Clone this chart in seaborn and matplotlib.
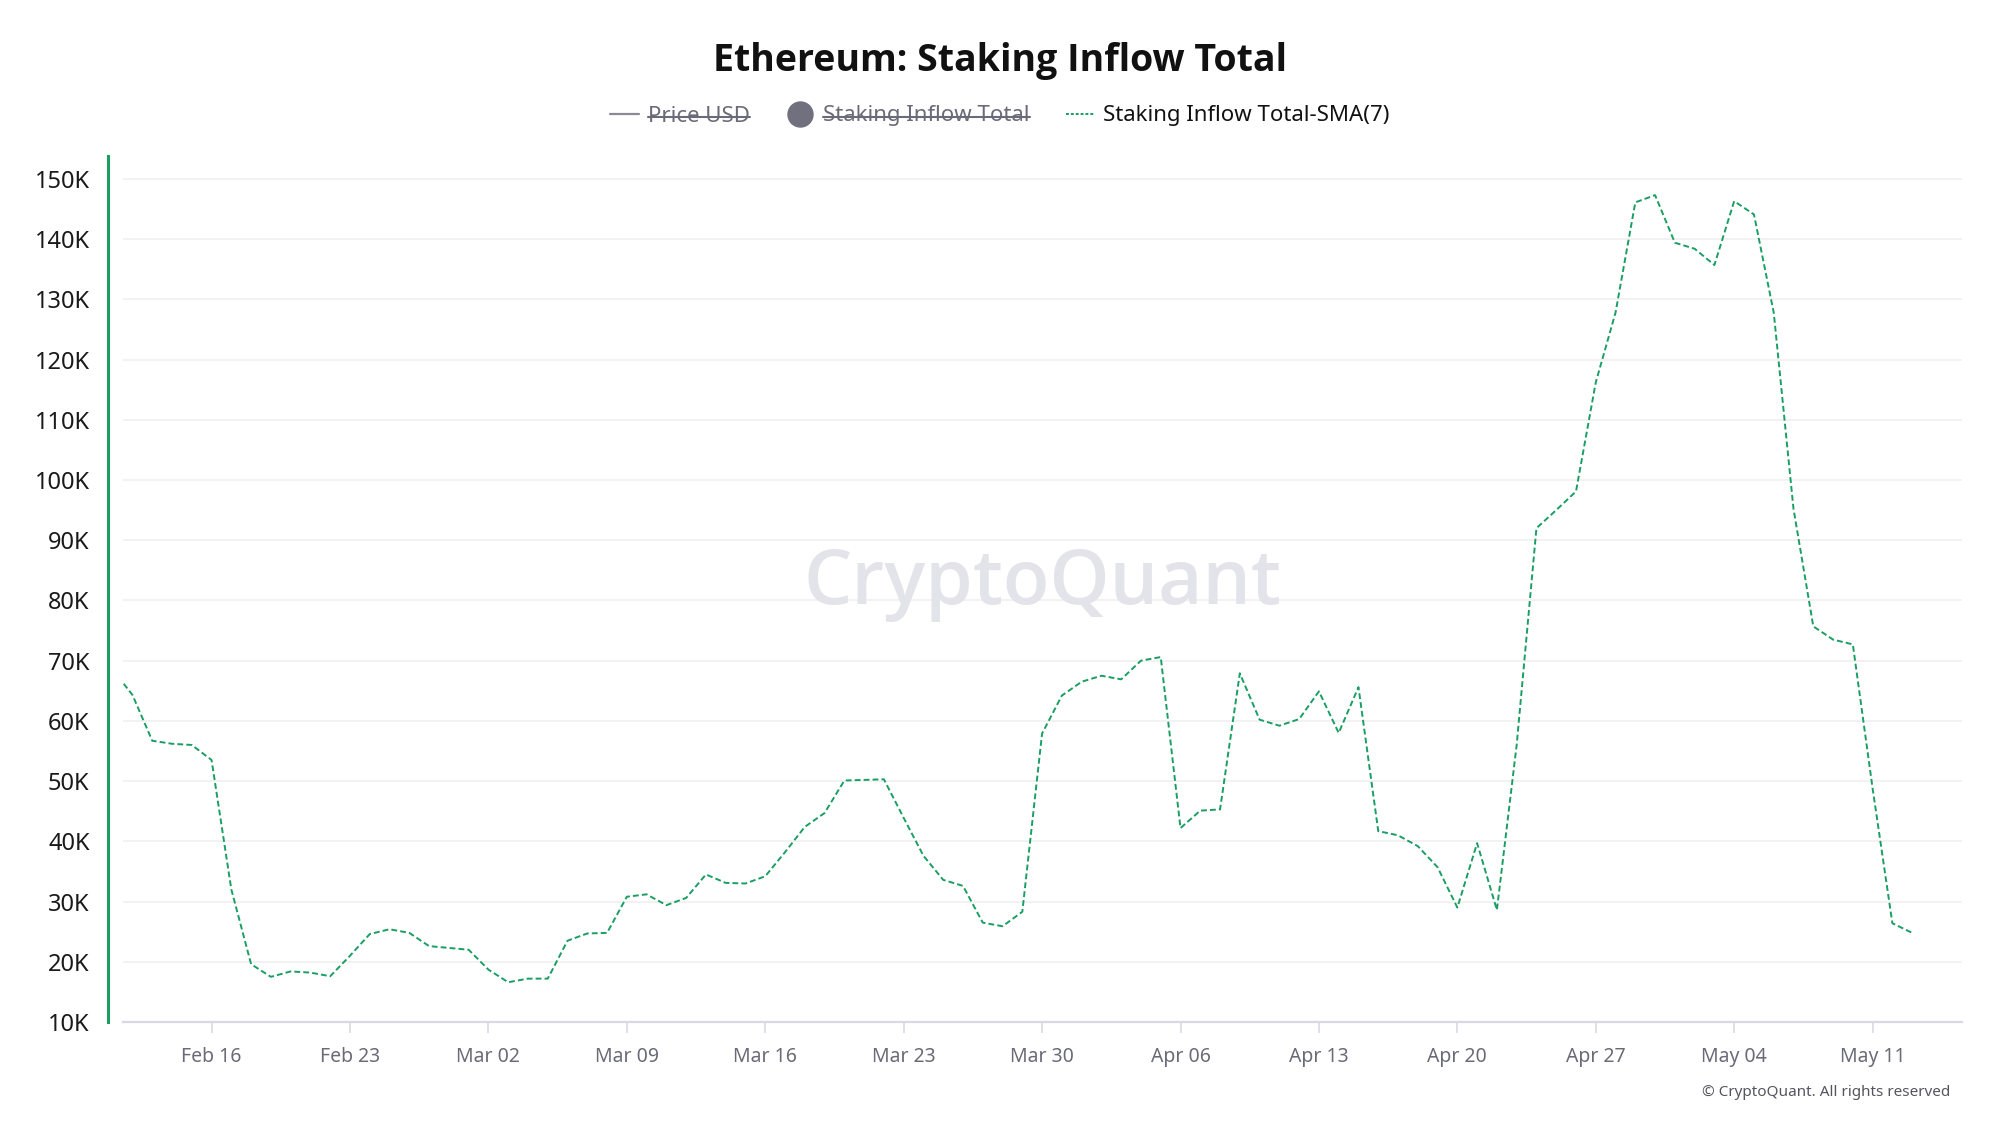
import matplotlib
matplotlib.use("Agg")
import matplotlib.pyplot as plt
import matplotlib.dates as mdates
from matplotlib.lines import Line2D
from matplotlib.ticker import FuncFormatter
import seaborn as sns
import pandas as pd

# ---- data (7-day SMA of Ethereum staking inflow, in thousands of ETH) ----
start_date = "2025-02-11"
end_date = "2025-05-13"
feb_values = [68.5, 64.3, 56.7, 56.2, 56.0, 53.5, 32.0, 19.6, 17.5, 18.4, 18.2, 17.6,
              21.0, 24.6, 25.4, 24.8, 22.6, 22.3]
mar_values = [22.0, 18.7, 16.6, 17.2, 17.2, 23.5, 24.7, 24.8, 30.8, 31.2, 29.4, 30.6,
              34.5, 33.1, 33.0, 34.2, 38.2, 42.4, 44.7, 50.1, 50.2, 50.3, 43.9, 37.6,
              33.6, 32.6, 26.5, 25.9, 28.3, 57.9, 64.2]
apr_values = [66.5, 67.5, 66.9, 70.0, 70.6, 42.2, 45.1, 45.3, 67.9, 60.2, 59.2, 60.3,
              64.9, 58.0, 65.6, 41.7, 41.0, 39.2, 35.7, 29.0, 39.7, 28.6, 56.0, 92.0,
              95.0, 98.1, 116.2, 127.8, 146.1, 147.3]
may_values = [139.4, 138.4, 135.7, 146.3, 144.1, 127.8, 95.2, 75.7, 73.5, 72.7, 48.8,
              26.4, 24.8]
y_ticks_k = [10, 20, 30, 40, 50, 60, 70, 80, 90, 100, 110, 120, 130, 140, 150]
legend_labels = ["Price USD", "Staking Inflow Total", "Staking Inflow Total-SMA(7)"]
title_text = "Ethereum: Staking Inflow Total"

dates = pd.date_range(start_date, end_date, freq="D")
values_k = feb_values + mar_values + apr_values + may_values
df = pd.DataFrame({"date": dates, "sma7": [v * 1000 for v in values_k]})

# ---- style ----
sns.set_theme(style="white")
plt.rcParams["font.family"] = ["Noto Sans", "DejaVu Sans"]

GREEN = "#1a9e62"
GREY_TXT = "#6b6b78"
AXIS_GREY = "#d9d9e3"

fig = plt.figure(figsize=(20, 11.25), dpi=100)
fig.patch.set_facecolor("white")
ax = fig.add_axes([123 / 2000, 103 / 1125, (1962 - 123) / 2000, (1022 - 156) / 1125])

sns.lineplot(data=df, x="date", y="sma7", ax=ax, color=GREEN, linewidth=1.4,
             linestyle=(0, (3, 1.6)), zorder=3)

ax.set_xlim(pd.Timestamp("2025-02-11 12:30"), pd.Timestamp("2025-05-15 12:30"))
ax.set_ylim(10000, 153800)

ax.set_yticks([v * 1000 for v in y_ticks_k])
ax.yaxis.set_major_formatter(FuncFormatter(lambda v, p: f"{int(round(v / 1000))}K"))
ax.grid(axis="y", color="#f0f0f2", linewidth=1.2, zorder=0)
ax.grid(axis="x", visible=False)

ax.xaxis.set_major_locator(mdates.WeekdayLocator(byweekday=mdates.SU))
ax.xaxis.set_major_formatter(mdates.DateFormatter("%b %d"))

ax.set_xlabel("")
ax.set_ylabel("")

for s in ["top", "right"]:
    ax.spines[s].set_visible(False)
ax.spines["left"].set_color(GREEN)
ax.spines["left"].set_linewidth(2.2)
ax.spines["left"].set_position(("outward", 11))
ax.spines["bottom"].set_color(AXIS_GREY)
ax.spines["bottom"].set_linewidth(1.6)

ax.tick_params(axis="y", length=0, pad=13, labelsize=17, labelcolor="#1a1a1a")
ax.tick_params(axis="x", length=8, width=1.2, color=AXIS_GREY, direction="out",
               pad=10, labelsize=14, labelcolor=GREY_TXT, bottom=True)

# watermark
ax.text(0.5, 0.506, "CryptoQuant", transform=ax.transAxes, ha="center", va="center",
        fontsize=55, color="#e3e3ea", fontweight="semibold",
        family=["Open Sans", "DejaVu Sans"], zorder=1)

# title
fig.text(0.5, 1 - 61 / 1125, title_text, ha="center", va="center",
         fontsize=27, fontweight="bold", color="#111111",
         family=["Open Sans", "DejaVu Sans"])

# legend
handles = [
    Line2D([], [], color="#8a8a96", linewidth=1.6),
    Line2D([], [], color="#70707e", marker="o", markersize=18, linestyle="none"),
    Line2D([], [], color=GREEN, linewidth=1.4, linestyle=(0, (1.5, 1))),
]
leg = fig.legend(handles, legend_labels, loc="center", ncol=3,
                 bbox_to_anchor=(0.5, 1 - 116 / 1125), frameon=False, fontsize=16,
                 handlelength=1.3, handletextpad=0.4, columnspacing=1.6)
texts = leg.get_texts()
texts[0].set_color(GREY_TXT)
texts[1].set_color(GREY_TXT)
texts[2].set_color("#111111")

# strike-through for hidden series
fig.canvas.draw()
renderer = fig.canvas.get_renderer()
inv = fig.transFigure.inverted()
for t in texts[:2]:
    bb = t.get_window_extent(renderer)
    (x0, y0), (x1, y1) = inv.transform([(bb.x0, bb.y0), (bb.x1, bb.y1)])
    ym = y0 + (y1 - y0) * 0.45
    fig.add_artist(Line2D([x0, x1], [ym, ym], color=GREY_TXT, linewidth=1.5,
                          transform=fig.transFigure))

# copyright
fig.text(1950 / 2000, 1 - 1092 / 1125, "\u00a9 CryptoQuant. All rights reserved",
         ha="right", va="center", fontsize=11, color="#555560")

fig.savefig("out.png", dpi=100, facecolor="white")
